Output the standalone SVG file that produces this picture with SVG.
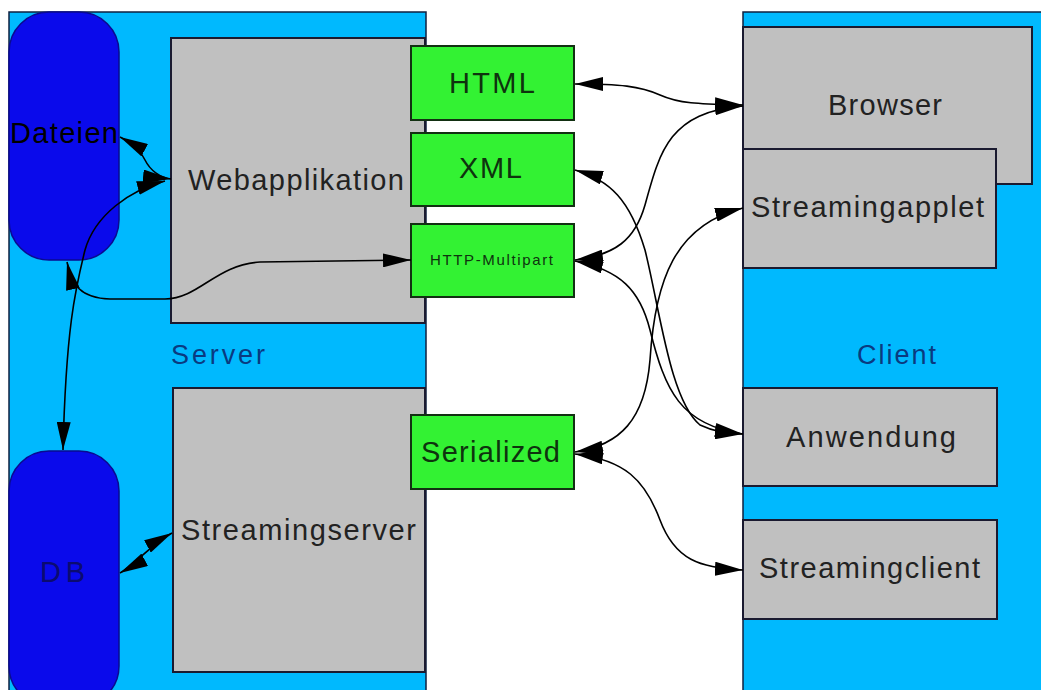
<svg xmlns="http://www.w3.org/2000/svg" width="1041" height="690" viewBox="0 0 1041 690">
<style>
.area{fill:#00b9fe;stroke:#0f2040;stroke-width:1.5}
.box{fill:#c0c0c0;stroke:#1a1a30;stroke-width:2}
.green{fill:#33f233;stroke:#123012;stroke-width:2}
.cap{fill:#0a0aeb;stroke:#0a0a90;stroke-width:1.5}
.lbl{font-family:"Liberation Sans",Arial,sans-serif;font-size:29px;fill:#222}
.glbl{font-family:"Liberation Sans",Arial,sans-serif;font-size:29px;fill:#0e330e}
.alb{font-family:"Liberation Sans",Arial,sans-serif;font-size:27px;fill:#0a3a80}
.con{fill:none;stroke:#000;stroke-width:1.6;marker-start:url(#ah);marker-end:url(#ah)}
</style>
<defs>
<marker id="ah" markerUnits="userSpaceOnUse" markerWidth="28" markerHeight="14" refX="28" refY="7" orient="auto-start-reverse">
<path d="M0,0 L28,7 L0,14 z" fill="#000"/>
</marker>
</defs>
<rect width="1041" height="690" fill="#fff"/>
<g id="server">
<rect class="area" x="9" y="12" width="417" height="700"/>
<text class="alb" x="171" y="364" textLength="94">Server</text>
</g>
<g id="webapplikation">
<rect class="box" x="171" y="38" width="254" height="285"/>
<text class="lbl" x="188" y="190" textLength="216">Webapplikation</text>
</g>
<g id="streamingserver">
<rect class="box" x="173" y="388" width="252" height="284"/>
<text class="lbl" x="181" y="540" textLength="235">Streamingserver</text>
</g>
<g id="dateien">
<rect class="cap" x="9" y="12" width="110" height="248" rx="40" ry="40"/>
<text class="lbl" x="10" y="143" textLength="108" style="fill:#000">Dateien</text>
</g>
<g id="db">
<rect class="cap" x="9" y="451" width="110" height="255" rx="40" ry="40"/>
<text class="lbl" x="40" y="582" textLength="45" style="fill:#0b0b70">DB</text>
</g>
<g id="html">
<rect class="green" x="411" y="46" width="163" height="74"/>
<text class="glbl" x="449" y="93" textLength="86">HTML</text>
</g>
<g id="xml">
<rect class="green" x="411" y="133" width="163" height="73"/>
<text class="glbl" x="459" y="178" textLength="63">XML</text>
</g>
<g id="http-multipart">
<rect class="green" x="411" y="224" width="163" height="73"/>
<text class="glbl" x="430" y="265" textLength="123" style="font-size:15px">HTTP-Multipart</text>
</g>
<g id="serialized">
<rect class="green" x="411" y="415" width="163" height="74"/>
<text class="glbl" x="421" y="462" textLength="139">Serialized</text>
</g>
<g id="client">
<rect class="area" x="743" y="12" width="310" height="700"/>
<text class="alb" x="857" y="364" textLength="79">Client</text>
</g>
<g id="browser">
<rect class="box" x="743" y="27" width="289" height="157"/>
<text class="lbl" x="828" y="115" textLength="114">Browser</text>
</g>
<g id="streamingapplet">
<rect class="box" x="743" y="149" width="253" height="119"/>
<text class="lbl" x="751" y="217" textLength="233">Streamingapplet</text>
</g>
<g id="anwendung">
<rect class="box" x="743" y="388" width="254" height="98"/>
<text class="lbl" x="786" y="447" textLength="170">Anwendung</text>
</g>
<g id="streamingclient">
<rect class="box" x="743" y="520" width="254" height="99"/>
<text class="lbl" x="759" y="578" textLength="221">Streamingclient</text>
</g>
<g id="connectors">
<path class="con" d="M120,137 C135,145 140,150 145,160 C150,170 160,178 171,179"/>
<path class="con" d="M165,181 C130,190 95,215 85,250 C75,290 66,330 63,450"/>
<path class="con" d="M67,262 C72,285 80,298 110,299 L165,299 C200,298 215,265 260,262 L411,260"/>
<path class="con" d="M120,573 C135,565 150,545 172,533"/>
<path class="con" d="M575,84 C620,84 640,86 660,95 C680,104 700,104 743,105"/>
<path class="con" d="M575,260 C615,255 635,240 645,205 C660,150 670,112 743,106"/>
<path class="con" d="M575,170 C610,180 630,200 645,250 C660,310 670,400 700,425 C715,432 725,433 743,434"/>
<path class="con" d="M575,261 C620,270 640,290 650,330 C665,390 680,425 743,434"/>
<path class="con" d="M575,452 C620,445 645,420 650,360 C655,280 675,225 743,208"/>
<path class="con" d="M575,454 C625,460 645,480 660,520 C675,560 700,568 743,570"/>
</g>
</svg>
